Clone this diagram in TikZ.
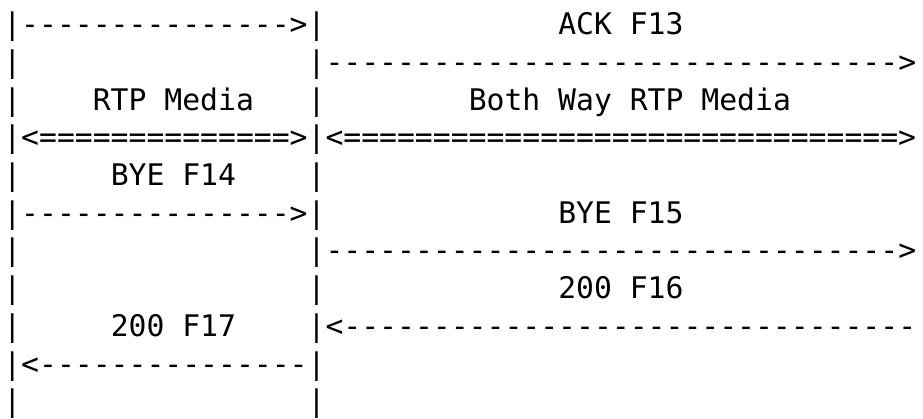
\documentclass[tikz,border=0pt]{standalone}
\usepackage{fontspec}
\setmonofont{DejaVu Sans Mono}
\ExplSyntaxOn
\cs_new:Npn \myrep #1#2 { \prg_replicate:nn {#1} {#2} }
\ExplSyntaxOff
\begin{document}
\begin{tikzpicture}[x=1pt,y=1pt,
  asc/.style={inner sep=0pt, outer sep=0pt, anchor=base west,
    font=\ttfamily\fontsize{29.73pt}{37.7pt}\selectfont}]
\useasboundingbox (0,0) rectangle (923,418);
\def\cw{17.9}
\def\xo{3.35}
% line 1
\node[asc] (l1a) at ({\xo+0*\cw},{383.3-0*37.7}) {|\myrep{15}{-}>|};
\node[asc] (l1b) at ({\xo+31*\cw},{383.3-0*37.7}) {ACK F13};
% line 2
\node[asc] (l2a) at ({\xo+0*\cw},{383.3-1*37.7}) {|};
\node[asc] (l2b) at ({\xo+17*\cw},{383.3-1*37.7}) {|\myrep{32}{-}>};
% line 3
\node[asc] (l3a) at ({\xo+0*\cw},{383.3-2*37.7}) {|};
\node[asc] (l3b) at ({\xo+5*\cw},{383.3-2*37.7}) {RTP Media};
\node[asc] (l3c) at ({\xo+17*\cw},{383.3-2*37.7}) {|};
\node[asc] (l3d) at ({\xo+26*\cw},{383.3-2*37.7}) {Both Way RTP Media};
% line 4
\node[asc] (l4a) at ({\xo+0*\cw},{383.3-3*37.7}) {|<\myrep{14}{=}>|<\myrep{31}{=}>};
% line 5
\node[asc] (l5a) at ({\xo+0*\cw},{383.3-4*37.7}) {|};
\node[asc] (l5b) at ({\xo+6*\cw},{383.3-4*37.7}) {BYE F14};
\node[asc] (l5c) at ({\xo+17*\cw},{383.3-4*37.7}) {|};
% line 6
\node[asc] (l6a) at ({\xo+0*\cw},{383.3-5*37.7}) {|\myrep{15}{-}>|};
\node[asc] (l6b) at ({\xo+31*\cw},{383.3-5*37.7}) {BYE F15};
% line 7
\node[asc] (l7a) at ({\xo+0*\cw},{383.3-6*37.7}) {|};
\node[asc] (l7b) at ({\xo+17*\cw},{383.3-6*37.7}) {|\myrep{32}{-}>};
% line 8
\node[asc] (l8a) at ({\xo+0*\cw},{383.3-7*37.7}) {|};
\node[asc] (l8b) at ({\xo+17*\cw},{383.3-7*37.7}) {|};
\node[asc] (l8c) at ({\xo+31*\cw},{383.3-7*37.7}) {200 F16};
% line 9
\node[asc] (l9a) at ({\xo+0*\cw},{383.3-8*37.7}) {|};
\node[asc] (l9b) at ({\xo+6*\cw},{383.3-8*37.7}) {200 F17};
\node[asc] (l9c) at ({\xo+17*\cw},{383.3-8*37.7}) {|<\myrep{32}{-}};
% line 10
\node[asc] (l10a) at ({\xo+0*\cw},{383.3-9*37.7}) {|<\myrep{15}{-}|};
% line 11
\node[asc] (l11a) at ({\xo+0*\cw},{383.3-10*37.7}) {|};
\node[asc] (l11b) at ({\xo+17*\cw},{383.3-10*37.7}) {|};
\end{tikzpicture}
\end{document}
